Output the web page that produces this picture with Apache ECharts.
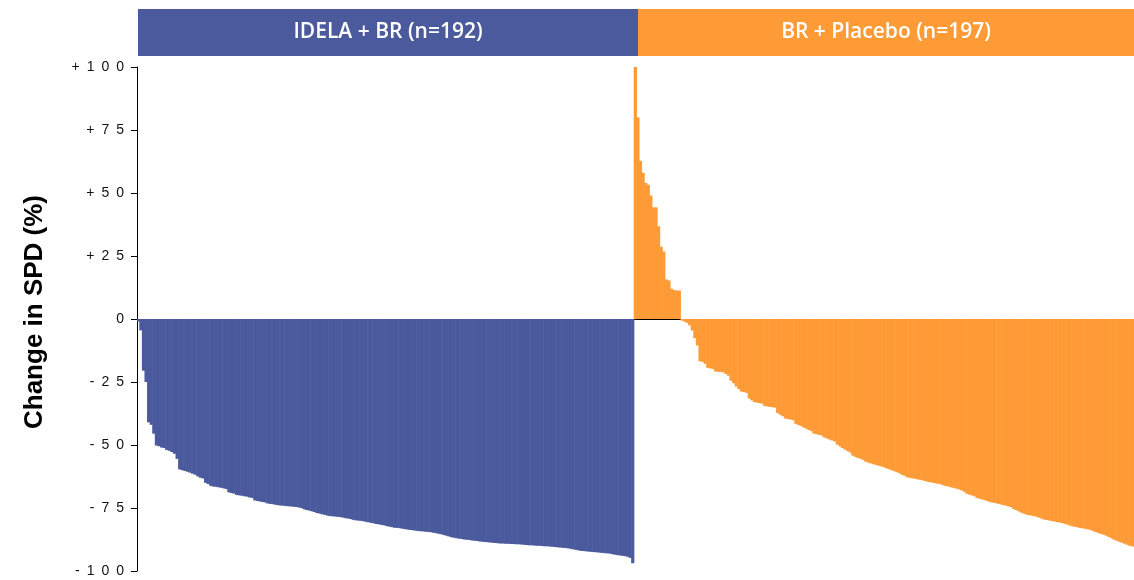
<!DOCTYPE html>
<html>
<head>
<meta charset="utf-8">
<title>Change in SPD waterfall</title>
<script src="https://cdn.jsdelivr.net/npm/echarts@6/dist/echarts.min.js"></script>
<style>
  html, body { margin: 0; padding: 0; background: #ffffff; }
  #chart { width: 1134px; height: 580px; }
</style>
</head>
<body>
<div id="chart"></div>
<script>
// Best percent change in sum of product diameters (SPD), one bar per patient,
// sorted within each arm.
const armNames = ['IDELA + BR (n=192)', 'BR + Placebo (n=197)'];

const idelaBR = [
  -1, -4.5, -20.5, -25, -41, -42, -45.5, -50.2, -50.5, -51, -51.2, -52, -52.3, -52.8, -53.5, -55.5, -59.7,
  -60, -60.3, -60.6, -61, -61.4, -61.8, -62.5, -63, -63.3,
  -65, -65.5,
  -66.2, -66.5, -66.6, -66.8, -67, -67.2, -67.5,
  -68.8, -69, -69.3,
  -69.8, -70, -70.1, -70.3, -70.5, -70.8, -71,
  -72, -72.2, -72.4, -72.6, -72.8,
  -73.2, -73.4, -73.5, -73.7, -73.9,
  -74, -74.1, -74.2, -74.3, -74.4, -74.5, -74.6, -74.8, -75,
  -75.5, -75.8, -76, -76.3, -76.6,
  -77, -77.2, -77.5, -77.7, -78,
  -78.2, -78.3, -78.4, -78.5, -78.6, -78.8, -79, -79.2, -79.4,
  -79.7, -79.9, -80, -80.1, -80.3, -80.5, -80.7, -80.9,
  -81.1, -81.3, -81.5, -81.7, -81.9,
  -82.2, -82.4, -82.6, -82.8, -82.9, -83, -83.2,
  -83.4, -83.5, -83.7, -83.8, -84, -84.1,
  -84.2, -84.3, -84.4, -84.5, -84.6, -84.8, -85, -85.2,
  -85.4, -85.7, -86, -86.3, -86.6, -86.8, -87,
  -87.2, -87.3, -87.5, -87.6, -87.7, -87.9, -88, -88.1,
  -88.3, -88.4, -88.5, -88.6, -88.7, -88.8, -88.9,
  -89, -89.1, -89.1, -89.2, -89.2, -89.3, -89.3, -89.4, -89.4, -89.5, -89.6, -89.7,
  -89.8, -89.8, -89.9, -90, -90, -90.1, -90.2, -90.2, -90.3, -90.4,
  -90.5, -90.6, -90.7, -90.8, -90.9, -91,
  -91.2, -91.4, -91.6, -91.8, -92,
  -92.1, -92.2, -92.3, -92.4, -92.5, -92.6,
  -92.7, -92.8, -92.9, -93, -93.1, -93.3, -93.5,
  -93.7, -93.8, -94, -94.1, -94.3,
  -94.8, -96.9
];

const brPlacebo = [
  100, 80, 62.8, 58, 54, 53.3, 49, 44.3, 44.3, 36.8, 28.7, 26.8, 15.7, 15.3, 12, 11.5, 11.3, 11.3,
  -0.6, -1,
  -1.5,
  -2.5, -4.6, -7.6, -10.5,
  -16.8, -17,
  -17.8,
  -19.4, -19.6, -19.8,
  -20.8, -21, -21, -21.2,
  -21.8, -22.5,
  -24.5, -25.5,
  -26.8, -27.8,
  -28.8, -29, -29.3,
  -31.5, -32.3,
  -33, -33.2, -33.4, -33.6,
  -34.5, -34.7, -34.9, -35, -35.2,
  -37.3, -38, -38.6,
  -39.5, -39.7, -39.9, -40.2,
  -41.6, -42, -42.5, -43, -43.5, -44, -44.5,
  -45.5, -45.7, -46, -46.2,
  -47, -47.4, -47.8, -48.2, -48.6,
  -49.8, -50.5, -51.2, -51.8, -52.4, -53,
  -54.2, -54.7, -55.1, -55.5, -55.9,
  -56.6, -57, -57.3, -57.6, -57.9, -58.2, -58.5, -58.8,
  -59.2, -59.6, -60, -60.4, -60.8, -61.2,
  -61.8, -62.2,
  -62.8, -63, -63.2, -63.4, -63.6, -63.8, -64, -64.3,
  -64.6, -64.8, -65, -65.2, -65.4, -65.6,
  -66, -66.3, -66.5, -66.8, -67, -67.3, -67.6, -68, -68.5,
  -69.3, -69.7, -70, -70.3,
  -71, -71.3, -71.6, -71.9, -72.2,
  -72.6, -72.8, -73, -73.3, -73.5, -73.8, -74, -74.3, -74.6,
  -75.3, -75.8, -76.3, -76.8, -77.2,
  -77.6, -77.8, -78, -78.2, -78.5, -78.8, -79.2,
  -79.6, -79.8, -80, -80.2, -80.4, -80.6, -80.8, -81, -81.3, -81.6, -82,
  -82.3, -82.5, -82.7, -82.9, -83.1, -83.3, -83.5, -83.8,
  -84.2, -84.6, -85, -85.3, -85.6, -86, -86.5, -87,
  -87.6, -88, -88.4, -88.8, -89.2, -89.6,
  -90, -90.2, -90.5, -91, -91.5, -92.5
];

const yTicks = [-100, -75, -50, -25, 0, 25, 50, 75, 100];

const BLUE = '#4a5a9c';
const ORANGE = '#fe9b37';

// one category per patient, both arms side by side
const patients = [];
for (let i = 0; i < idelaBR.length + brPlacebo.length; i++) patients.push('P' + (i + 1));

const idelaSeries = idelaBR.concat(brPlacebo.map(() => '-'));
const placeboSeries = idelaBR.map(() => '-').concat(brPlacebo);

// spaced-out tick text, e.g. "+ 1 0 0"
function tickText(v) {
  const s = (v > 0 ? '+' : '') + String(v);
  return s.split('').join('\u2002');
}

const chart = echarts.init(document.getElementById('chart'), null, { renderer: 'canvas' });

// bars are a touch wider than their slot so neighbours butt together without seams
const BAR_W = 3.2;

chart.setOption({
  animation: false,
  backgroundColor: '#ffffff',
  // the plot runs a little past the right edge of the page, so the last bars are cut off
  grid: { left: 137, top: 67, width: 1007, height: 504, containLabel: false, outerBoundsMode: 'none' },
  xAxis: {
    type: 'category',
    data: patients,
    axisLine: { show: true, onZero: true, lineStyle: { color: '#000000', width: 1 } },
    axisTick: { show: false },
    axisLabel: { show: false },
    splitLine: { show: false }
  },
  yAxis: {
    type: 'value',
    min: yTicks[0],
    max: yTicks[yTicks.length - 1],
    interval: 25,
    axisLine: { show: true, lineStyle: { color: '#000000', width: 1 } },
    axisTick: { show: true, length: 6, lineStyle: { color: '#000000' } },
    axisLabel: {
      margin: 13,
      color: '#111111',
      fontFamily: 'Liberation Sans, Arial, sans-serif',
      fontSize: 14,
      formatter: v => tickText(v)
    },
    splitLine: { show: false }
  },
  series: [
    {
      name: armNames[0],
      type: 'bar',
      data: idelaSeries,
      itemStyle: { color: BLUE },
      barWidth: BAR_W,
      barGap: '-100%'
    },
    {
      name: armNames[1],
      type: 'bar',
      data: placeboSeries,
      itemStyle: { color: ORANGE },
      barWidth: BAR_W,
      barGap: '-100%'
    }
  ],
  graphic: [
    {
      type: 'rect',
      shape: { x: 138, y: 9, width: 500, height: 47 },
      style: { fill: BLUE }
    },
    {
      type: 'rect',
      shape: { x: 638, y: 9, width: 496, height: 47 },
      style: { fill: ORANGE }
    },
    {
      type: 'text',
      x: 388, y: 32,
      style: {
        text: armNames[0],
        fill: '#ffffff',
        font: '600 21px "Open Sans", sans-serif',
        textAlign: 'center',
        textVerticalAlign: 'middle'
      }
    },
    {
      type: 'text',
      x: 886, y: 32,
      style: {
        text: armNames[1],
        fill: '#ffffff',
        font: '600 21px "Open Sans", sans-serif',
        textAlign: 'center',
        textVerticalAlign: 'middle'
      }
    },
    {
      type: 'text',
      x: 35, y: 312,
      rotation: Math.PI / 2,
      style: {
        text: 'Change in SPD (%)',
        fill: '#000000',
        font: 'bold 26px "Liberation Sans", Arial, sans-serif',
        textAlign: 'center',
        textVerticalAlign: 'middle'
      }
    }
  ]
});
</script>
</body>
</html>
